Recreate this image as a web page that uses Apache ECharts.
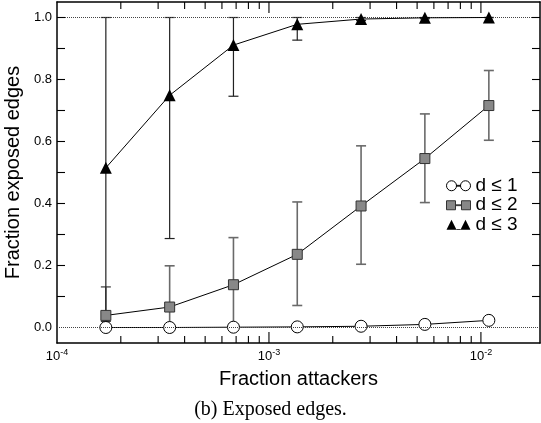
<html>
<head>
<meta charset="UTF-8">
<script src="https://cdn.jsdelivr.net/npm/echarts@6/dist/echarts.min.js"></script>
<title>Exposed edges</title>
<style>
	body { margin: 0; background: #fff; }
	#main { width: 541px; height: 423px; }
</style>
</head>
<body>
	<div id="main"></div>
</body>
<script type="text/javascript">
	// fraction of attackers (x positions)
	var attackers = [1.7e-4, 3.4e-4, 6.8e-4, 1.36e-3, 2.72e-3, 5.44e-3, 1.09e-2];
	// d <= 1
	var d1 = [0, 0, 0.001, 0.002, 0.004, 0.010, 0.023];
	// d <= 2 with error bar ends
	var d2 = [0.039, 0.066, 0.138, 0.236, 0.392, 0.545, 0.716];
	var d2Lo = [0, 0, 0, 0.071, 0.204, 0.403, 0.604];
	var d2Hi = [0.131, 0.199, 0.290, 0.405, 0.586, 0.689, 0.829];
	// d <= 3 with error bar ends
	var d3 = [0.515, 0.749, 0.911, 0.978, 0.995, 0.999, 1.0];
	var d3Lo = [0.02, 0.287, 0.746, 0.927, 0.99, 0.996, 1.0];
	var d3Hi = [1.0, 1.0, 1.0, 1.0, 1.0, 1.0, 1.0];
	// tick values
	var xMajorTicks = [1e-3, 1e-2];
	var xMinorTicks = [2e-4, 3e-4, 4e-4, 5e-4, 6e-4, 7e-4, 8e-4, 9e-4,
		2e-3, 3e-3, 4e-3, 5e-3, 6e-3, 7e-3, 8e-3, 9e-3];
	var yTicks = [0.1, 0.2, 0.3, 0.4, 0.5, 0.6, 0.7, 0.8, 0.9, 1.0];
	var names = ['d \u2264 1', 'd \u2264 2', 'd \u2264 3'];

	var X_MIN = 1e-4, X_MAX = 0.019, Y_MIN = -0.05, Y_MAX = 1.05;

	function pairs(ys) {
		var out = [];
		for (var i = 0; i < ys.length; i++) out.push([attackers[i], ys[i]]);
		return out;
	}
	function bars(lo, hi) {
		var out = [];
		for (var i = 0; i < lo.length; i++) out.push([attackers[i], lo[i], hi[i]]);
		return out;
	}
	function errorBar(color, width) {
		return function(params, api) {
			var x = api.value(0);
			var lo = api.coord([x, api.value(1)]);
			var hi = api.coord([x, api.value(2)]);
			var style = { stroke: color, lineWidth: width };
			return {
				type: 'group',
				children: [
					{ type: 'line', shape: { x1: lo[0], y1: lo[1], x2: hi[0], y2: hi[1] }, style: style },
					{ type: 'line', shape: { x1: lo[0] - 5, y1: lo[1], x2: lo[0] + 5, y2: lo[1] }, style: style },
					{ type: 'line', shape: { x1: hi[0] - 5, y1: hi[1], x2: hi[0] + 5, y2: hi[1] }, style: style }
				]
			};
		};
	}
	// ticks on all four sides: [x, y, kind, length]
	var tickData = [];
	for (var a = 0; a < xMajorTicks.length; a++) tickData.push([xMajorTicks[a], Y_MIN, 0, 11]);
	for (var i = 0; i < xMinorTicks.length; i++) tickData.push([xMinorTicks[i], Y_MIN, 0, 7]);
	for (var j = 0; j < yTicks.length; j++) tickData.push([X_MIN, yTicks[j], 1, 8]);
	function renderTick(params, api) {
		var kind = api.value(2);
		var len = api.value(3);
		var st = { stroke: '#000', lineWidth: 1.1 };
		if (kind === 0) {
			var b = api.coord([api.value(0), Y_MIN]);
			var t = api.coord([api.value(0), Y_MAX]);
			return { type: 'group', children: [
				{ type: 'line', shape: { x1: b[0], y1: b[1], x2: b[0], y2: b[1] - len }, style: st },
				{ type: 'line', shape: { x1: t[0], y1: t[1], x2: t[0], y2: t[1] + len }, style: st }
			] };
		}
		var l = api.coord([X_MIN, api.value(1)]);
		var r = api.coord([X_MAX, api.value(1)]);
		return { type: 'group', children: [
			{ type: 'line', shape: { x1: l[0], y1: l[1], x2: l[0] + len, y2: l[1] }, style: st },
			{ type: 'line', shape: { x1: r[0], y1: r[1], x2: r[0] - len, y2: r[1] }, style: st }
		] };
	}

	var font = 'Liberation Sans, Arial, sans-serif';
	var axisLine = { show: true, onZero: false, lineStyle: { color: '#000', width: 1.5 } };
	var myChart = echarts.init(document.getElementById('main'), null, { renderer: 'canvas' });
	var option = {
		animation: false,
		grid: { left: 57, right: 1, top: 2, bottom: 80, outerBoundsMode: 'none', containLabel: false },
		legend: {
			orient: 'vertical',
			left: 446,
			top: 176,
			padding: 0,
			itemWidth: 24,
			itemHeight: 10,
			itemGap: 0,
			textStyle: { fontFamily: font, fontSize: 19, color: '#000', lineHeight: 19.5 },
			data: [
				{ name: names[0], icon: 'path://M0,5a5,5 0 1,0 10,0a5,5 0 1,0 -10,0Z M14,5a5,5 0 1,0 10,0a5,5 0 1,0 -10,0Z M10,4.6h4v0.8h-4Z',
					itemStyle: { color: '#fff', borderColor: '#000', borderWidth: 1 } },
				{ name: names[1], icon: 'path://M0,0.5h9v9h-9Z M15,0.5h9v9h-9Z M9,4.6h6v0.8h-6Z',
					itemStyle: { color: '#888', borderColor: '#333', borderWidth: 1 } },
				{ name: names[2], icon: 'path://M0,10L5,0L10,10Z M14,10L19,0L24,10Z M10,9.2h4v0.8h-4Z',
					itemStyle: { color: '#000', borderColor: '#000', borderWidth: 0 } }
			]
		},
		xAxis: [{
			type: 'log',
			logBase: 10,
			min: X_MIN,
			max: X_MAX,
			name: 'Fraction attackers',
			nameLocation: 'middle',
			nameGap: 26,
			nameTextStyle: { fontFamily: font, fontSize: 20, color: '#000' },
			axisLine: axisLine,
			axisTick: { show: false },
			splitLine: { show: false },
			axisLabel: {
				margin: 5,
				showMaxLabel: false,
				formatter: function(v) {
					return '{b|10}{s|' + Math.round(Math.log10(v)) + '}';
				},
				rich: {
					b: { fontFamily: font, fontSize: 13, color: '#000' },
					s: { fontFamily: font, fontSize: 9, color: '#000', padding: [0, 0, 8, 0] }
				}
			}
		}, {
			type: 'log',
			logBase: 10,
			min: X_MIN,
			max: X_MAX,
			position: 'top',
			axisLine: axisLine,
			axisTick: { show: false },
			axisLabel: { show: false },
			splitLine: { show: false }
		}],
		yAxis: [{
			type: 'value',
			min: Y_MIN,
			max: Y_MAX,
			name: 'Fraction exposed edges',
			nameLocation: 'middle',
			nameGap: 23,
			nameTextStyle: { fontFamily: font, fontSize: 20, color: '#000' },
			axisLine: axisLine,
			axisTick: { show: false },
			splitLine: { show: false },
			axisLabel: {
				margin: 5,
				showMinLabel: false,
				showMaxLabel: false,
				fontFamily: font,
				fontSize: 13,
				color: '#000',
				formatter: function(v) { return v.toFixed(1); }
			}
		}, {
			type: 'value',
			min: Y_MIN,
			max: Y_MAX,
			position: 'right',
			axisLine: axisLine,
			axisTick: { show: false },
			axisLabel: { show: false },
			splitLine: { show: false }
		}],
		graphic: [{
			type: 'text',
			left: 'center',
			x: -28,
			top: 400,
			style: {
				text: '(b) Exposed edges.',
				font: '20px "Liberation Serif", "Times New Roman", serif',
				fill: '#000'
			}
		}],
		series: [
			{
				type: 'custom',
				name: 'ticks',
				renderItem: renderTick,
				data: tickData,
				encode: { x: 0, y: 1 },
				silent: true,
				clip: false,
				z: 10
			},
			{
				type: 'custom',
				name: 'err2',
				renderItem: errorBar('#6a6a6a', 1.6),
				data: bars(d2Lo, d2Hi),
				silent: true,
				z: 2
			},
			{
				type: 'custom',
				name: 'err3',
				renderItem: errorBar('#222', 1.2),
				data: bars(d3Lo, d3Hi),
				silent: true,
				z: 2
			},
			{
				name: names[0],
				type: 'line',
				data: pairs(d1),
				symbol: 'circle',
				symbolSize: 12,
				lineStyle: { color: '#000', width: 1 },
				itemStyle: { color: '#fff', borderColor: '#000', borderWidth: 1 },
				markLine: {
					silent: true,
					symbol: 'none',
					label: { show: false },
					lineStyle: { color: '#444', type: 'dotted', width: 1 },
					data: [{ yAxis: 0 }, { yAxis: 1 }]
				},
				z: 3
			},
			{
				name: names[1],
				type: 'line',
				data: pairs(d2),
				symbol: 'rect',
				symbolSize: 10,
				lineStyle: { color: '#000', width: 1 },
				itemStyle: { color: '#888', borderColor: '#333', borderWidth: 1 },
				z: 4
			},
			{
				name: names[2],
				type: 'line',
				data: pairs(d3),
				symbol: 'triangle',
				symbolSize: 12,
				lineStyle: { color: '#000', width: 1 },
				itemStyle: { color: '#000', borderColor: '#000', borderWidth: 0 },
				z: 5
			}
		]
	};
	myChart.setOption(option);
</script>
</html>
